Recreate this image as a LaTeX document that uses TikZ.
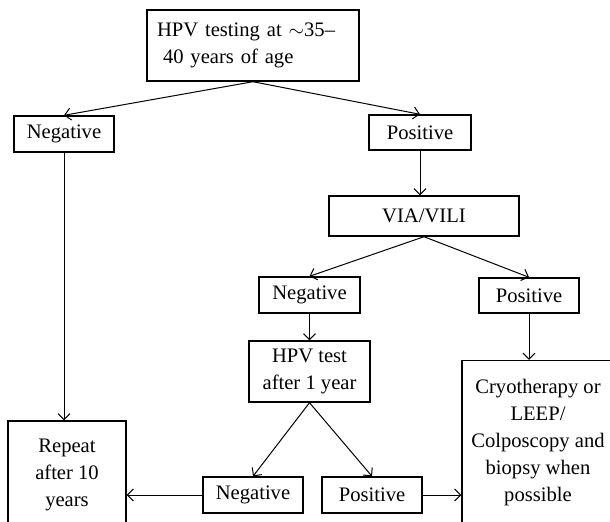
\documentclass[tikz,border=0pt]{standalone}
\usepackage{fontspec}
\setmainfont{Liberation Serif}
\usetikzlibrary{arrows.meta}
\tikzset{
  box/.style={draw, line width=0.7pt, inner sep=0pt, align=center,
    font=\fontsize{10.3}{13.5}\selectfont},
  flow/.style={-{Straight Barb[length=3pt,width=6pt]}, line width=0.5pt},
}
\begin{document}
\begin{tikzpicture}[x=0.5pt,y=-0.5pt]
       \useasboundingbox (0,0) rectangle (610,521);
       \clip (0,0) rectangle (610,521);
       % first screening
       \node[box, minimum width=106pt, minimum height=35.5pt, text width=96pt, align=left] (test) at (253,45.5)
         {HPV testing at $\sim$35--\\\hspace*{3pt}40 years of age};
       \node[box, minimum width=50pt, minimum height=18pt] (negL) at (64,134) {Negative};
       \node[box, minimum width=51pt, minimum height=17.5pt] (posR) at (420,132.5) {Positive};
       \node[box, minimum width=95pt, minimum height=20pt] (via) at (424,216) {VIA/VILI};
       % triage
       \node[box, minimum width=50.5pt, minimum height=18pt] (negM) at (309.5,295) {Negative};
       \node[box, minimum width=50pt, minimum height=17.5pt] (posM) at (529,295.5) {Positive};
       \node[box, minimum width=60.5pt, minimum height=30.5pt] (retest) at (309.5,371.5) {HPV test\\after 1 year};
       \node[box, minimum width=50pt, minimum height=18pt] (negB) at (253,495) {Negative};
       \node[box, minimum width=50pt, minimum height=18pt] (posB) at (372,495) {Positive};
       % outcomes
       \node[box, minimum width=59pt, minimum height=54pt] (repeat) at (67,475) {Repeat\\after 10\\years};
       \node[box, minimum width=76pt, minimum height=82pt] (treat) at (538,442.5)
         {Cryotherapy or\\LEEP/\\Colposcopy and\\biopsy when\\possible};
       % connectors
       \draw[flow] (test.south) -- (negL.north);
       \draw[flow] (test.south) -- (posR.north);
       \draw[flow] (negL.south) -- (negL.south |- repeat.north);
       \draw[flow] (posR.south) -- (posR.south |- via.north);
       \draw[flow] (via.south) -- (negM.north);
       \draw[flow] (via.south) -- (posM.north);
       \draw[flow] (negM.south) -- (retest.north);
       \draw[flow] (posM.south) -- (posM.south |- treat.north);
       \draw[flow] (retest.south) -- (negB.north);
       \draw[flow] (retest.south) -- (posB.north);
       \draw[flow] (negB.west) -- (negB.west -| repeat.east);
       \draw[flow] (posB.east) -- (posB.east -| treat.west);
     \end{tikzpicture}
\end{document}
